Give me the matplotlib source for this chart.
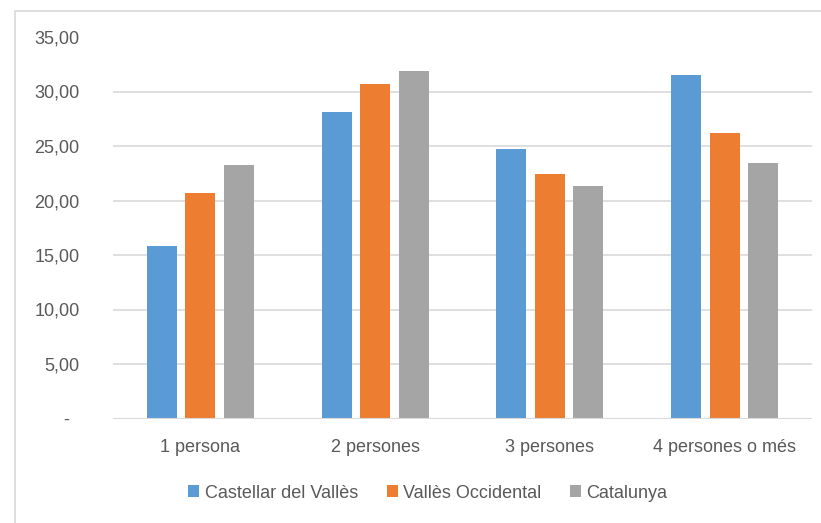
import numpy as np
import matplotlib.pyplot as plt
from matplotlib.patches import Rectangle

categories = ["1 persona", "2 persones", "3 persones", "4 persones o més"]
series_names = ["Castellar del Vallès", "Vallès Occidental", "Catalunya"]
castellar = [15.8, 28.1, 24.7, 31.5]
valles_occ = [20.7, 30.7, 22.4, 26.2]
catalunya = [23.3, 31.9, 21.3, 23.4]
y_ticks = [0, 5, 10, 15, 20, 25, 30, 35]
y_labels = ["-  ", "5,00", "10,00", "15,00", "20,00", "25,00", "30,00", "35,00"]

colors = ["#5b9bd5", "#ed7d31", "#a5a5a5"]
text_color = "#595959"
grid_color = "#d9d9d9"

plt.rcParams['font.family'] = ['Liberation Sans Narrow', 'Liberation Sans', 'DejaVu Sans']

fig = plt.figure(figsize=(8.21, 5.23), dpi=100)
ax = fig.add_axes([113 / 821, 1 - 418.5 / 523, (812 - 113) / 821, (418.5 - 37) / 523])

# chart area border
fig.patches.append(Rectangle((15 / 821, -0.1), 1.2, 1 - 11.5 / 523 + 0.1,
                             transform=fig.transFigure, fill=False,
                             edgecolor=grid_color, lw=1.2, zorder=0))

x = np.arange(len(categories))
width = 0.172
step = 0.22
for i, (vals, name) in enumerate(zip([castellar, valles_occ, catalunya], series_names)):
    ax.bar(x + (i - 1) * step, vals, width, color=colors[i], label=name, zorder=3)

ax.set_xlim(-0.5, len(categories) - 0.5)
ax.set_ylim(0, 35)
ax.set_yticks(y_ticks)
ax.set_yticklabels(y_labels)
ax.set_xticks(x)
ax.set_xticklabels(categories)

ax.yaxis.grid(True, color=grid_color, lw=1.2, zorder=0)
ax.get_ygridlines()[-1].set_visible(False)
ax.get_ygridlines()[0].set_visible(False)
ax.axhline(0, color=grid_color, lw=1.5, zorder=4)

for s in ax.spines.values():
    s.set_visible(False)
ax.tick_params(axis='both', length=0, labelsize=13, labelcolor=text_color)
ax.tick_params(axis='y', pad=24)
ax.tick_params(axis='x', pad=15)

fig.legend(loc='center', bbox_to_anchor=(428 / 821, 1 - 493 / 523), ncol=3,
           frameon=False, fontsize=13, labelcolor=text_color,
           handlelength=0.6, handleheight=0.6, handletextpad=0.3, columnspacing=1.6)

fig.savefig("out.png", dpi=100)
